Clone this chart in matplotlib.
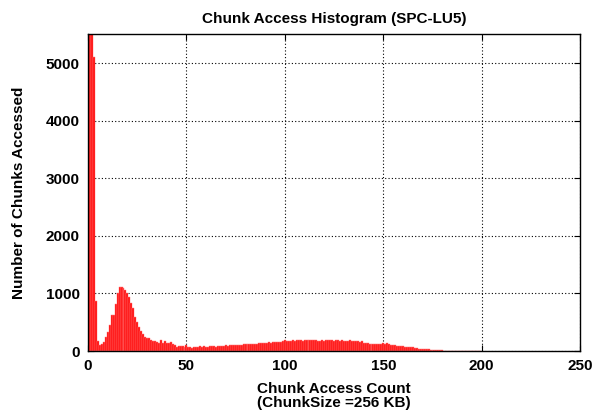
import matplotlib.pyplot as plt

# chunks accessed per access count (0..199)
counts = list(range(200))
chunks = [
    12000, 9000, 6500, 5100, 870, 175, 105, 120, 155, 245,
    335, 450, 625, 625, 815, 1005, 1105, 1115, 1100, 1060,
    1000, 945, 830, 740, 595, 510, 425, 355, 305, 250,
    230, 220, 200, 175, 175, 160, 145, 190, 135, 180,
    135, 135, 150, 115, 105, 75, 85, 85, 90, 75,
    105, 65, 75, 60, 70, 75, 80, 85, 80, 85,
    70, 80, 85, 85, 90, 80, 90, 85, 95, 90,
    100, 95, 100, 100, 105, 100, 110, 100, 110, 115,
    120, 115, 125, 120, 125, 130, 125, 135, 140, 135,
    145, 140, 150, 145, 150, 155, 150, 160, 165, 170,
    190, 175, 180, 175, 185, 180, 190, 185, 195, 180,
    190, 185, 200, 190, 200, 195, 185, 180, 175, 185,
    180, 195, 200, 185, 190, 180, 185, 190, 180, 185,
    175, 180, 170, 185, 175, 180, 170, 175, 165, 180,
    135, 145, 140, 120, 125, 120, 125, 120, 115, 120,
    135, 130, 135, 120, 105, 110, 100, 95, 95, 85,
    90, 80, 75, 70, 70, 65, 55, 50, 45, 40,
    40, 35, 30, 30, 25, 25, 20, 18, 15, 15,
    12, 10, 10, 8, 6, 5, 5, 4, 3, 3,
    2, 2, 2, 1, 1, 1, 1, 0, 0, 0,
]
xticks = [0, 50, 100, 150, 200, 250]
yticks = [0, 1000, 2000, 3000, 4000, 5000]

plt.rcParams['font.family'] = ['Liberation Sans', 'DejaVu Sans']
plt.rcParams['font.weight'] = 'bold'

fig = plt.figure(figsize=(5.95, 4.17), dpi=100)
ax = fig.add_axes([0.148, 0.158, 0.827, 0.760])

# contiguous boxes, light edges give the striped look of the original
ax.bar(counts, chunks, width=1.0, color='#ff0000', edgecolor='#ff8080',
       linewidth=0.35, zorder=2)

ax.set_xlim(0, 250)
ax.set_ylim(0, 5500)
ax.set_xticks(xticks)
ax.set_yticks(yticks)
ax.tick_params(direction='in', length=4, width=0.8, top=True, right=True,
               labelsize=11, pad=6)
for lab in ax.get_xticklabels() + ax.get_yticklabels():
    lab.set_fontweight('bold')

ax.grid(True, color='black', linestyle=(0, (1, 2)), linewidth=0.8, zorder=1)
ax.set_axisbelow(True)
for s in ax.spines.values():
    s.set_linewidth(1.0)
    s.set_zorder(3)

ax.set_title('Chunk Access Histogram (SPC-LU5)', fontsize=11, fontweight='bold', pad=8)
ax.set_xlabel('Chunk Access Count\n(ChunkSize =256 KB)', fontsize=11,
              fontweight='bold', linespacing=1.0, labelpad=6)
ax.set_ylabel('Number of Chunks Accessed', fontsize=11, fontweight='bold', labelpad=14)

fig.savefig('out.png', dpi=100)
